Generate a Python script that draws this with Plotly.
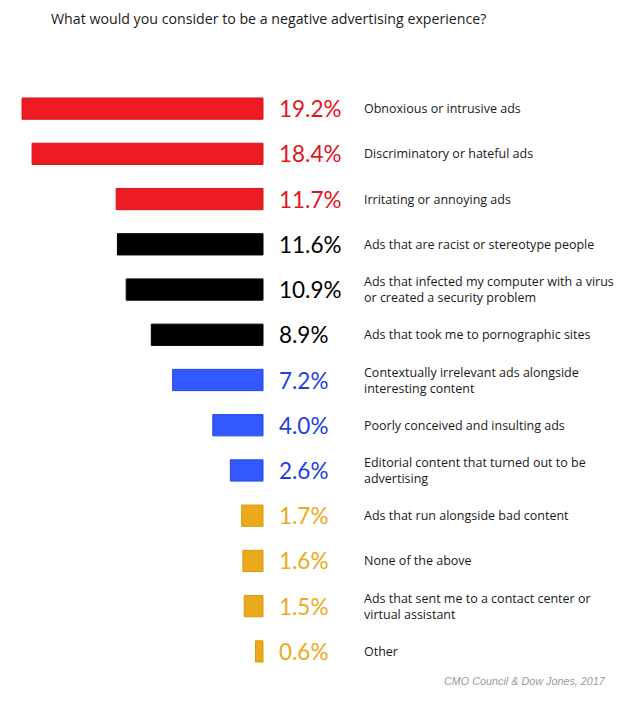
import plotly.graph_objects as go

categories = [
    "Obnoxious or intrusive ads",
    "Discriminatory or hateful ads",
    "Irritating or annoying ads",
    "Ads that are racist or stereotype people",
    "Ads that infected my computer with a virus<br>or created a security problem",
    "Ads that took me to pornographic sites",
    "Contextually irrelevant ads alongside<br>interesting content",
    "Poorly conceived and insulting ads",
    "Editorial content that turned out to be<br>advertising",
    "Ads that run alongside bad content",
    "None of the above",
    "Ads that sent me to a contact center or<br>virtual assistant",
    "Other",
]
values = [19.2, 18.4, 11.7, 11.6, 10.9, 8.9, 7.2, 4.0, 2.6, 1.7, 1.6, 1.5, 0.6]
groups = ["red", "red", "red", "black", "black", "black", "blue", "blue", "blue",
          "gold", "gold", "gold", "gold"]
title_text = "What would you consider to be a negative advertising experience?"
source_text = "CMO Council & Dow Jones, 2017"

fill = {"red": "#ED1C24", "black": "#000000", "blue": "#3358FF", "gold": "#EBAA1B"}
edge = {"red": "#D3141C", "black": "#000000", "blue": "#2446DD", "gold": "#D89A12"}
textc = {"red": "#E3151D", "black": "#000000", "blue": "#1E3FE6", "gold": "#EBAA1B"}

keys = [f"c{i}" for i in range(len(categories))]

W, H = 622, 694
T, B = 78, 28
PH = H - T - B
PX_PER = 12.55
X0 = 255 / PX_PER

fig = go.Figure()
fig.add_trace(go.Bar(
    x=values, y=keys, orientation="h",
    marker=dict(color=[fill[g] for g in groups],
                line=dict(color=[edge[g] for g in groups], width=1)),
    width=0.47, hoverinfo="skip",
))

for k, v, g, c in zip(keys, values, groups, categories):
    fig.add_annotation(x=0, y=k, xref="x", yref="y", text=f"{v:.1f}%",
                       showarrow=False, xanchor="left", xshift=14,
                       font=dict(family="Lato", size=22.5, color=textc[g]))
    fig.add_annotation(x=0, y=k, xref="x", yref="y", text=c,
                       showarrow=False, xanchor="left", align="left", xshift=99,
                       font=dict(family="Open Sans", size=12.5, color="#1a1a1a"))

fig.add_annotation(x=41 / W, y=1 + (T - 10) / PH, xref="paper", yref="paper",
                   text=title_text, showarrow=False, xanchor="left", yanchor="middle",
                   font=dict(family="Open Sans", size=14.2, color="#1a1a1a"))

fig.add_annotation(x=600 / W, y=-(673 - (H - B)) / PH, xref="paper", yref="paper",
                   text=f"<i>{source_text}</i>", showarrow=False,
                   xanchor="right", yanchor="middle",
                   font=dict(family="Liberation Sans", size=10.8, color="#9a9a9a"))

fig.update_layout(
    width=W, height=H,
    margin=dict(l=0, r=0, t=T, b=B),
    paper_bgcolor="white", plot_bgcolor="white",
    showlegend=False,
    xaxis=dict(range=[X0, X0 - W / PX_PER], showgrid=False, zeroline=False,
               showticklabels=False, fixedrange=True),
    yaxis=dict(categoryorder="array", categoryarray=keys, range=[12.5, -0.5],
               showgrid=False, zeroline=False, showticklabels=False),
)

fig.write_html("out.html")
